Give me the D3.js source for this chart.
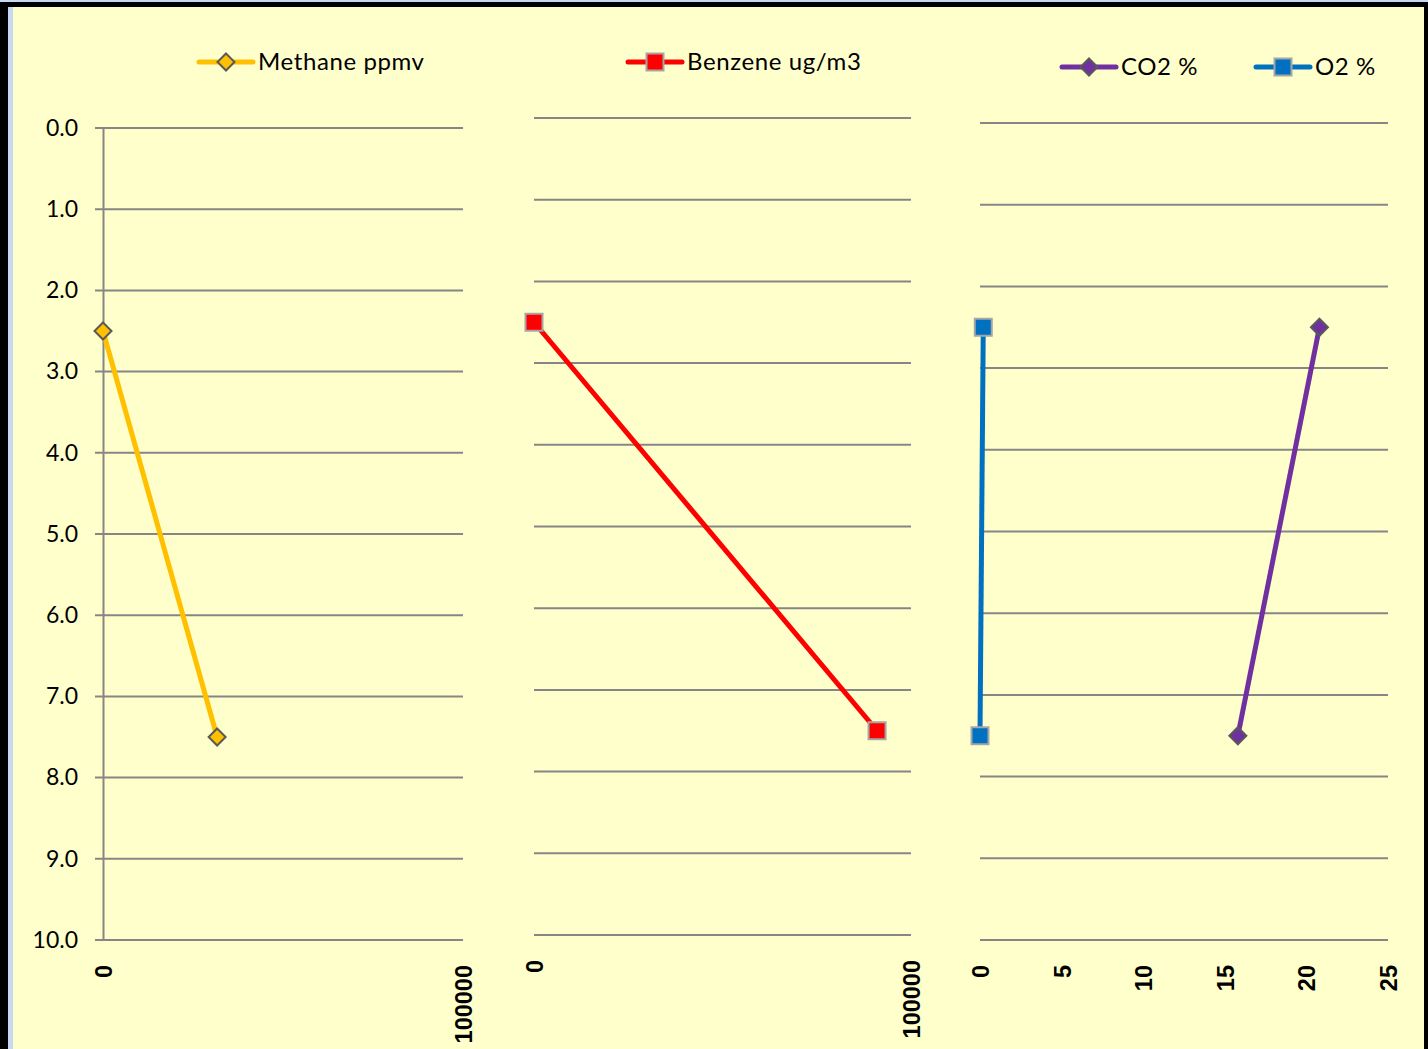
<!DOCTYPE html>
<html>
<head>
<meta charset="utf-8">
<script src="https://cdn.jsdelivr.net/npm/d3@7"></script>
<style>
  body { margin: 0; background: #c6d9f1; }
  svg { display: block; }
</style>
</head>
<body>
<div id="chart"></div>
<script>
// depth values shared by every series
const depths = [2.5, 7.5];
const yTickValues = [0, 1, 2, 3, 4, 5, 6, 7, 8, 9, 10];

// series values
const methane = [0, 31700];
const benzene = [0, 91000];
const co2 = [20.8, 15.8];
const o2 = [0.2, 0.0];

// x tick labels per panel
const xTicksPpm = [0, 100000];
const xTicksPct = [0, 5, 10, 15, 20, 25];

const W = 1428, H = 1049;
const font = 'Lato, "Open Sans", sans-serif';

const svg = d3.select('#chart').append('svg')
  .attr('width', W)
  .attr('height', H);

// frame: black outer, thin blue strip on the left, yellow plot area
svg.append('rect').attr('x', 0).attr('y', 0).attr('width', W).attr('height', H).attr('fill', '#c6d9f1');
svg.append('rect').attr('x', 0).attr('y', 2).attr('width', W).attr('height', H).attr('fill', '#000');
svg.append('rect').attr('x', 8).attr('y', 7).attr('width', 1416).attr('height', H).attr('fill', '#c6d9f1');
svg.append('rect').attr('x', 13).attr('y', 7).attr('width', 1411).attr('height', H).attr('fill', '#ffffcc');

const panels = [
  {
    left: 103, right: 463, top: 128, bottom: 940,
    domain: [0, 100000], ticks: xTicksPpm, yAxis: true,
    series: [
      { name: 'Methane ppmv', values: methane, color: '#ffc000', shape: 'diamond',
        legendX: 199, legendY: 62 }
    ]
  },
  {
    left: 534, right: 911, top: 118, bottom: 935,
    domain: [0, 100000], ticks: xTicksPpm, yAxis: false,
    series: [
      { name: 'Benzene ug/m3', values: benzene, color: '#ff0000', shape: 'square',
        legendX: 628, legendY: 62 }
    ]
  },
  {
    left: 980, right: 1388, top: 123, bottom: 940,
    domain: [0, 25], ticks: xTicksPct, yAxis: false,
    series: [
      { name: 'O2 %', values: o2, color: '#0070c0', shape: 'square',
        legendX: 1256, legendY: 67 },
      { name: 'CO2 %', values: co2, color: '#7030a0', shape: 'diamond',
        legendX: 1062, legendY: 67 }
    ]
  }
];

function drawMarker(g, shape, color, cx, cy) {
  if (shape === 'diamond') {
    const r = 8.5;
    g.append('path')
      .attr('d', `M${cx},${cy - r}L${cx + r},${cy}L${cx},${cy + r}L${cx - r},${cy}Z`)
      .attr('fill', color)
      .attr('stroke', '#595959')
      .attr('stroke-width', 2);
  } else {
    const s = 17;
    g.append('rect')
      .attr('x', cx - s / 2).attr('y', cy - s / 2)
      .attr('width', s).attr('height', s)
      .attr('fill', color)
      .attr('stroke', '#a6a6a6')
      .attr('stroke-width', 2);
  }
}

panels.forEach(p => {
  const x = d3.scaleLinear().domain(p.domain).range([p.left, p.right]);
  const y = d3.scaleLinear().domain([0, 10]).range([p.top, p.bottom]);
  const g = svg.append('g');

  // horizontal gridlines
  g.append('g').selectAll('line')
    .data(yTickValues)
    .enter().append('line')
    .attr('x1', p.yAxis ? p.left - 8 : p.left)
    .attr('x2', p.right)
    .attr('y1', d => y(d))
    .attr('y2', d => y(d))
    .attr('stroke', '#868686')
    .attr('stroke-width', 2);

  if (p.yAxis) {
    const ya = g.append('g')
      .attr('transform', `translate(${p.left},0)`)
      .call(d3.axisLeft(y).tickValues(yTickValues).tickFormat(d3.format('.1f')).tickSize(0).tickPadding(25));
    ya.select('.domain').attr('stroke', '#868686').attr('stroke-width', 2);
    ya.selectAll('text')
      .attr('font-family', font)
      .attr('font-size', 23)
      .attr('fill', '#000');
  }

  // x tick labels, rotated, bold
  const xa = g.append('g')
    .attr('transform', `translate(0,${p.bottom})`)
    .call(d3.axisBottom(x).tickValues(p.ticks).tickSize(0).tickFormat(d3.format('d')));
  xa.select('.domain').remove();
  xa.selectAll('text')
    .attr('font-family', '"Liberation Sans", Arial, sans-serif')
    .attr('font-weight', 'bold')
    .attr('font-size', 23.5)
    .attr('fill', '#000')
    .attr('text-anchor', 'end')
    .attr('transform', 'translate(0,25) rotate(-90)')
    .attr('x', 0)
    .attr('y', 0)
    .attr('dy', '0.36em');

  p.series.forEach(s => {
    const pts = s.values.map((v, i) => [x(v), y(depths[i])]);
    g.append('path')
      .datum(pts)
      .attr('d', d3.line())
      .attr('fill', 'none')
      .attr('stroke', s.color)
      .attr('stroke-width', 5);
    pts.forEach(pt => drawMarker(g, s.shape, s.color, pt[0], pt[1]));

    // legend
    const lg = svg.append('g');
    lg.append('line')
      .attr('x1', s.legendX).attr('x2', s.legendX + 54)
      .attr('y1', s.legendY).attr('y2', s.legendY)
      .attr('stroke', s.color)
      .attr('stroke-width', 5)
      .attr('stroke-linecap', 'round');
    drawMarker(lg, s.shape, s.color, s.legendX + 27, s.legendY);
    lg.append('text')
      .attr('x', s.legendX + 59)
      .attr('y', s.legendY)
      .attr('dy', '0.35em')
      .attr('font-family', font)
      .attr('font-size', 24)
      .attr('letter-spacing', 0.6)
      .attr('fill', '#000')
      .text(s.name);
  });
});
</script>
</body>
</html>
